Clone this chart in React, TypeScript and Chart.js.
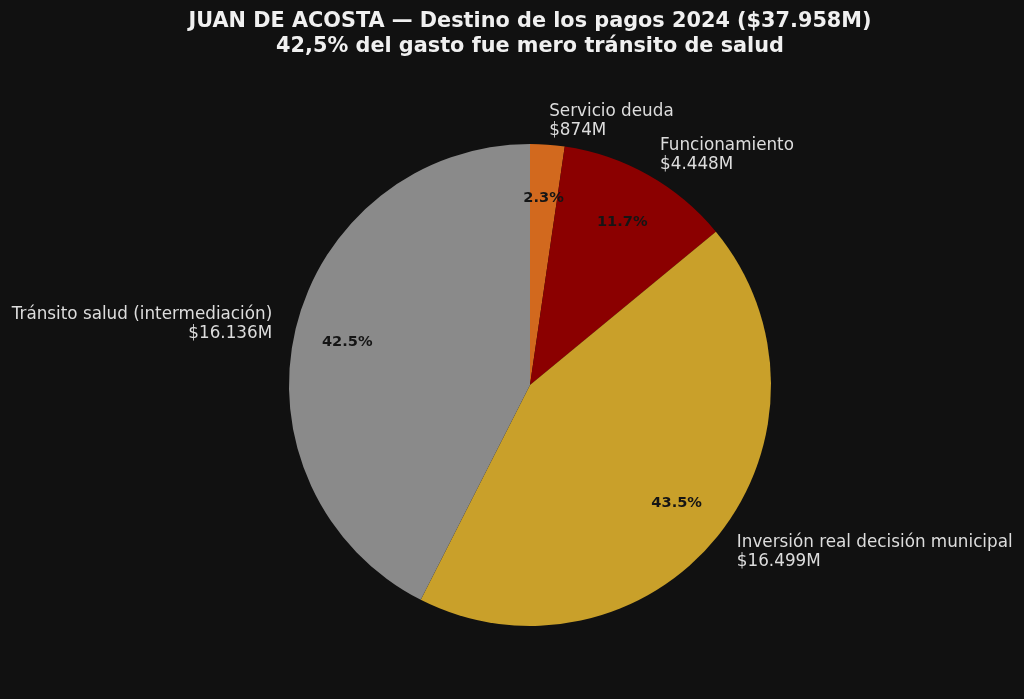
import React, { useEffect, useRef } from "react";
import { Chart, registerables } from "chart.js";

Chart.register(...registerables);

const categories = [
  "Servicio deuda",
  "Funcionamiento",
  "Inversión real decisión municipal",
  "Tránsito salud (intermediación)",
];
const values = [874, 4448, 16499, 16136];
const valueLabels = ["$874M", "$4.448M", "$16.499M", "$16.136M"];
const colors = ["#D2691E", "#8B0000", "#C9A02A", "#8A8A8A"];
const titleLines = [
  "JUAN DE ACOSTA — Destino de los pagos 2024 ($37.958M)",
  "42,5% del gasto fue mero tránsito de salud",
];

const FONT = "'DejaVu Sans', sans-serif";

const labelPlugin = {
  id: "pieLabels",
  afterDatasetsDraw(chart: any) {
    const ctx = chart.ctx;
    const meta = chart.getDatasetMeta(0);
    const total = values.reduce((a, b) => a + b, 0);
    ctx.save();
    meta.data.forEach((arc: any, i: number) => {
      const { x, y, startAngle, endAngle, outerRadius } = arc.getProps(
        ["x", "y", "startAngle", "endAngle", "outerRadius"],
        true
      );
      const mid = (startAngle + endAngle) / 2;
      const cx = Math.cos(mid);
      const cy = Math.sin(mid);
      // percentages
      const pr = outerRadius * 0.78;
      ctx.font = `bold 14.6px ${FONT}`;
      ctx.fillStyle = "#151515";
      ctx.textAlign = "center";
      ctx.textBaseline = "middle";
      ctx.fillText(((values[i] / total) * 100).toFixed(1) + "%", x + cx * pr, y + cy * pr + 1);
      // outer labels
      const lr = outerRadius * 1.1;
      const lx = x + cx * lr;
      const ly = y + cy * lr;
      ctx.font = `16.8px ${FONT}`;
      ctx.fillStyle = "#DDDDDD";
      ctx.textAlign = cx >= 0 ? "left" : "right";
      ctx.textBaseline = "middle";
      const lh = 19;
      ctx.fillText(categories[i], lx, ly - lh / 2 + 1);
      ctx.fillText(valueLabels[i], lx, ly + lh / 2 + 1);
    });
    // title
    ctx.font = `bold 20.8px ${FONT}`;
    ctx.fillStyle = "#F0F0F0";
    ctx.textAlign = "center";
    ctx.textBaseline = "middle";
    const tx = (chart.chartArea.left + chart.chartArea.right) / 2;
    ctx.fillText(titleLines[0], tx, 21.5);
    ctx.fillText(titleLines[1], tx, 46.5);
    ctx.restore();
  },
};

export default function App() {
  const ref = useRef<HTMLCanvasElement>(null);
  useEffect(() => {
    document.body.style.margin = "0";
    document.body.style.background = "#111111";
    const chart = new Chart(ref.current as HTMLCanvasElement, {
      type: "pie",
      data: {
        labels: categories,
        datasets: [
          {
            data: values,
            backgroundColor: colors,
            borderWidth: 0,
          },
        ],
      },
      options: {
        animation: false,
        responsive: false,
        maintainAspectRatio: false,
        layout: { padding: { left: 289, right: 253, top: 144, bottom: 73 } },
        plugins: {
          legend: { display: false },
          title: { display: false },
          tooltip: { enabled: false },
        },
      },
      plugins: [labelPlugin],
    });
    return () => chart.destroy();
  }, []);
  return (
    <div style={{ position: "fixed", left: 0, top: 0, width: 1024, height: 699, background: "#111111" }}>
      <canvas ref={ref} width={1024} height={699} style={{ width: 1024, height: 699, display: "block" }} />
    </div>
  );
}
